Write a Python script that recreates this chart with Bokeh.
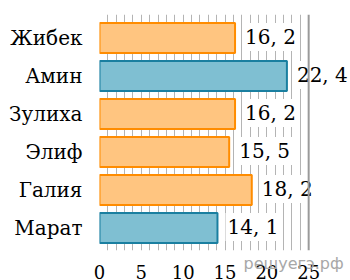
from bokeh.plotting import figure
from bokeh.models import Range1d, FixedTicker, Span, ColumnDataSource
from bokeh.core.properties import value
from bokeh.embed import file_html
from bokeh.resources import INLINE

names = ["Жибек", "Амин", "Зулиха", "Элиф", "Галия", "Марат"]
values = [16.2, 22.4, 16.2, 15.5, 18.2, 14.1]
kinds = ["o", "b", "o", "o", "o", "b"]
x_ticks = [0, 5, 10, 15, 20, 25]
x_max = 25
watermark = "решуегэ.рф"

SERIF = "DejaVu Serif"

n = len(names)
ypos = [n - 1 - i for i in range(n)]
fill = ["#ffc580" if k == "o" else "#7fbfd2" for k in kinds]
edge = ["#ff8c00" if k == "o" else "#1a7fa0" for k in kinds]
labels = [f"{v:.1f}".replace(".", ", ") for v in values]

src = ColumnDataSource(dict(y=ypos, v=values, fill=fill, edge=edge, lab=labels))

p = figure(width=350, height=280, output_backend="svg", toolbar_location=None,
           x_range=Range1d(0, 30.0), y_range=Range1d(-0.592, n - 1 + 0.618),
           min_border_left=99, min_border_right=0, min_border_top=14, min_border_bottom=30)
p.outline_line_color = None
p.background_fill_color = "white"

p.xgrid.ticker = FixedTicker(ticks=list(range(0, x_max)))
p.xgrid.grid_line_color = "#b4b4b4"
p.xgrid.grid_line_width = 1
p.ygrid.grid_line_color = None
p.add_layout(Span(location=x_max, dimension="height", line_color="#9a9a9a", line_width=2))

p.hbar(y="y", left=0, right="v", height=0.79, fill_color="fill", line_color="edge",
       line_width=2, source=src)

p.text(x="v", y="y", text="lab", source=src, x_offset=8, y_offset=-1,
       text_font=value(SERIF), text_font_size="20px",
       text_baseline="middle", text_align="left", text_color="black",
       background_fill_color="white", padding=2)

p.xaxis.ticker = FixedTicker(ticks=x_ticks)
p.xaxis.axis_line_color = None
p.xaxis.major_tick_line_color = None
p.xaxis.minor_tick_line_color = None
p.xaxis.major_label_standoff = 8
p.xaxis.major_label_text_font = SERIF
p.xaxis.major_label_text_font_size = "18px"
p.xaxis.major_label_text_color = "black"
p.xaxis.axis_label = "\u00a0" * 27 + watermark
p.xaxis.axis_label_standoff = -28
p.xaxis.axis_label_text_font = "DejaVu Sans"
p.xaxis.axis_label_text_font_style = "normal"
p.xaxis.axis_label_text_font_size = "16px"
p.xaxis.axis_label_text_color = "#a8a8a8"

p.yaxis.ticker = FixedTicker(ticks=ypos)
p.yaxis.major_label_overrides = {y: nm for y, nm in zip(ypos, names)}
p.yaxis.axis_line_color = None
p.yaxis.major_tick_line_color = None
p.yaxis.minor_tick_line_color = None
p.yaxis.major_label_standoff = 11
p.yaxis.major_label_text_font = SERIF
p.yaxis.major_label_text_font_size = "20px"
p.yaxis.major_label_text_color = "black"

open("out.html", "w").write(file_html(p, INLINE))
